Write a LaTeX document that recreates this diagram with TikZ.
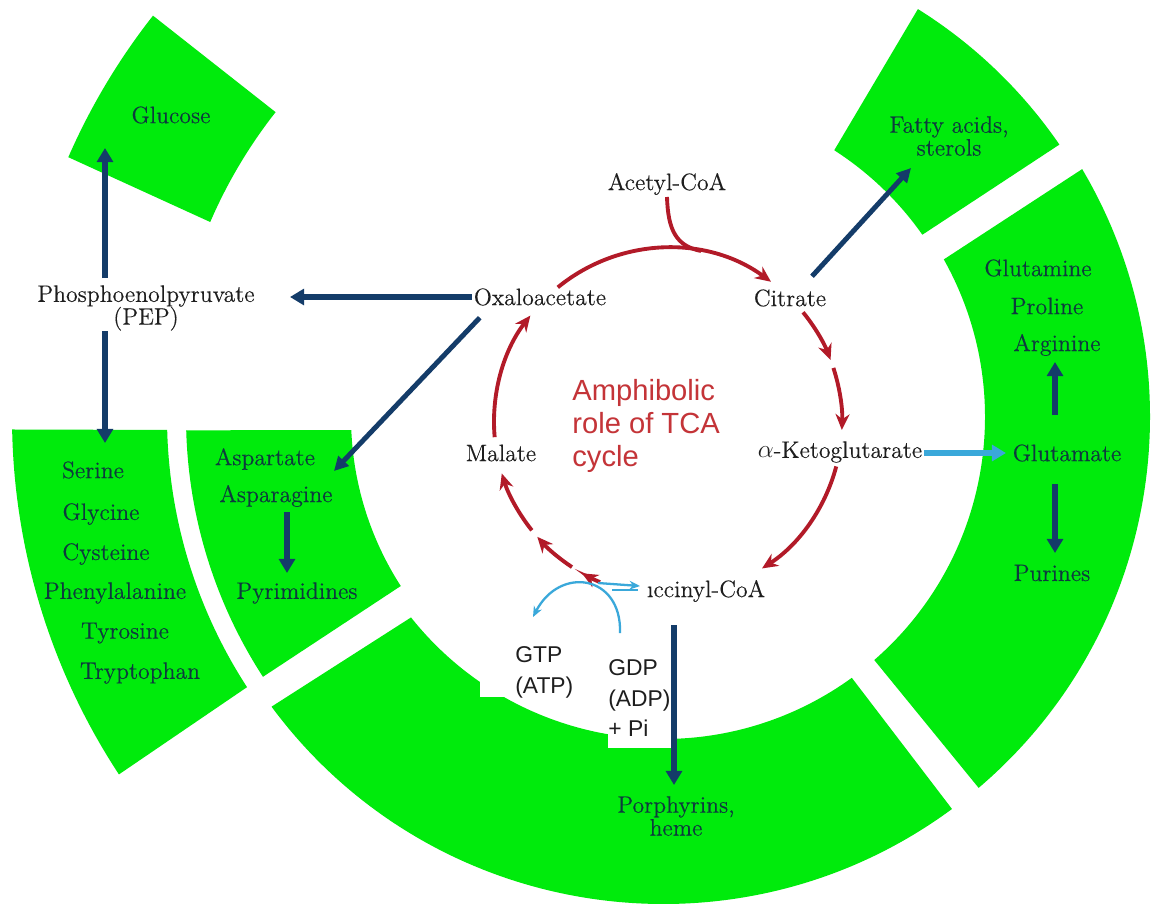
\documentclass[tikz,border=0pt]{standalone}
\usepackage{fontspec}
\newfontfamily\arialf{Liberation Sans}
\newfontfamily\schf{Latin Modern Roman}[FakeBold=0.35]
\usetikzlibrary{arrows.meta,calc}
\definecolor{ringgreen}{RGB}{0,235,12}
\definecolor{dkblue}{RGB}{20,60,105}
\definecolor{intext}{RGB}{14,58,62}
\definecolor{cycred}{RGB}{178,26,40}
\definecolor{tcared}{RGB}{196,52,56}
\definecolor{ltblue}{RGB}{58,168,218}
\definecolor{blk}{RGB}{30,30,30}
% #1 outer start, #2 outer end, #3 inner start, #4 inner end, #5 r in, #6 r out
\newcommand{\ringseg}[6]{\fill[ringgreen] ($(C)+(#1:#6)$) arc[start angle=#1,end angle=#2,radius=#6] -- ($(C)+(#4:#5)$) arc[start angle=#4,end angle=#3,radius=#5] -- cycle;}
\newcommand{\cycarc}[2]{\draw[rarr] ($(T)+(#1:174)$) arc[start angle=#1,end angle=#2,radius=174];}
\begin{document}
\begin{tikzpicture}[x=0.02cm,y=-0.02cm,
  gt/.style={text=intext,font=\schf\fontsize{13.5}{13}\selectfont,inner sep=1pt,align=center},
  bt/.style={text=blk,font=\schf\fontsize{13.5}{13}\selectfont,inner sep=1pt,align=center},
  st/.style={text=blk,font=\arialf\fontsize{13}{17.5}\selectfont,inner sep=0pt,align=left,anchor=north west},
  darr/.style={draw=dkblue,line width=3.6pt,-{Triangle[length=8pt,width=9pt]}},
  darrthin/.style={draw=dkblue,line width=2.8pt,-{Triangle[length=8pt,width=8pt]}},
  rarr/.style={draw=cycred,line width=2.2pt,-{Stealth[length=9pt,width=8pt]}},
  barr/.style={draw=ltblue,line width=1.3pt,-{Stealth[length=6pt,width=5pt]}},
]
\useasboundingbox (0,0) rectangle (1155,909);
\fill[white] (0,0) rectangle (1155,909);
\coordinate (C) at (663,417);
\coordinate (T) at (668,422);

% green segments
\ringseg{203.6}{218.2}{203.3}{218.2}{493}{649}
\ringseg{146.7}{178.9}{147}{178.5}{496}{651}
\ringseg{147}{178.4}{147.2}{177.6}{312}{477}
\ringseg{53.6}{143.5}{54.1}{141.5}{322}{487}
\ringseg{-30.6}{49.6}{-29.3}{49}{322}{487}
\ringseg{-58}{-34.5}{-57.3}{-35.1}{317}{481}

% white label boxes
\fill[white] (480,640) rectangle (585,697);
\fill[white] (608,640) rectangle (673,748);

% nodes
\node[gt] (glu) at (171,115) {Glucose};
\node[bt] (pep) at (146,308) {Phosphoenolpyruvate\\(PEP)};
\node[bt] (oaa) at (540,297) {Oxaloacetate};
\node[bt] (acoa) at (667,184) {Acetyl-CoA};
\node[bt] (cit) at (790,298) {Citrate};
\node[bt] (mal) at (501,453) {Malate};
\node[bt] (akg) at (840,452) {$\alpha$-Ketoglutarate};
\node[bt] (suc) at (706,591) {ıccinyl-CoA};
\node[gt] (fat) at (949,136) {Fatty acids,\\sterols};
\node[gt] (gln) at (1038,268) {Glutamine};
\node[gt] (pro) at (1047,306) {Proline};
\node[gt] (arg) at (1057,345) {Arginine};
\node[gt] (glt) at (1067,453) {Glutamate};
\node[gt] (pur) at (1052,573) {Purines};
\node[gt] (ser) at (93,470) {Serine};
\node[gt] (gly) at (101,514) {Glycine};
\node[gt] (cys) at (106,554) {Cysteine};
\node[gt] (phe) at (115,593) {Phenylalanine};
\node[gt] (tyr) at (125,633) {Tyrosine};
\node[gt] (trp) at (140,673) {Tryptophan};
\node[gt] (asp) at (265,459) {Aspartate};
\node[gt] (asn) at (276,496) {Asparagine};
\node[gt] (pyr) at (297,593) {Pyrimidines};
\node[gt] (por) at (676,816) {Porphyrins,\\heme};
\node[st] (gtp) at (515,646) {GTP\\(ATP)};
\node[st] (gdp) at (608,659) {GDP\\(ADP)\\+ Pi};
\node[st,text=tcared,font=\arialf\fontsize{16.6}{18.7}\selectfont] (amph) at (572,379) {Amphibolic\\role of TCA\\cycle};

% arrow end coordinates
\coordinate (pepin) at (290,297);
\coordinate (gluin) at (105,148);
\coordinate (serin) at (105,443);
\coordinate (aspin) at (334,471);
\coordinate (pyrin) at (287,573);
\coordinate (fatin) at (911,168);
\coordinate (argin) at (1055,362);
\coordinate (purin) at (1055,553);
\coordinate (porin) at (674,785);
\coordinate (gltin) at (1006,453);

% dark blue arrows
\draw[darr] (oaa.west) -- (pepin);
\draw[darr] (gluin |- 0,278) -- (gluin);
\draw[darr] (serin |- 0,331) -- (serin);
\draw[darrthin] ($(oaa.south west)+(8,10)$) -- (aspin);
\draw[darr] (pyrin |- 0,512) -- (pyrin);
\draw[darrthin] ($(cit.north)+(22,-11)$) -- (fatin);
\draw[darr] (argin |- 0,415) -- (argin);
\draw[darr] (purin |- 0,484) -- (purin);
\draw[darr] (porin |- 0,625) -- (porin);
\draw[draw=ltblue,line width=3.2pt,-{Triangle[length=8pt,width=9pt]}] (akg.east |- gltin) -- (gltin);

% TCA cycle
\cycarc{-129.3}{-53.7}
\draw[cycred,line width=2.2pt] (acoa.south) .. controls (668,230) and (676,246) .. (701,251);
\cycarc{-39.1}{-20.9}
\cycarc{-18.1}{2.6}
\cycarc{14.8}{57.3}
\cycarc{113}{119.6}
\cycarc{123.5}{138.7}
\cycarc{141.5}{162.8}
\cycarc{175}{217.7}

% GTP / GDP light blue
\coordinate (gdpout) at (620,633);
\coordinate (gtpin) at (533,617);
\draw[barr] (gdpout) .. controls (622,575) and (560,565) .. (gtpin);
\draw[barr] (598,583) -- (640,586);
\draw[draw=ltblue,line width=1.2pt] (612,590) -- (638,590);
\end{tikzpicture}
\end{document}
